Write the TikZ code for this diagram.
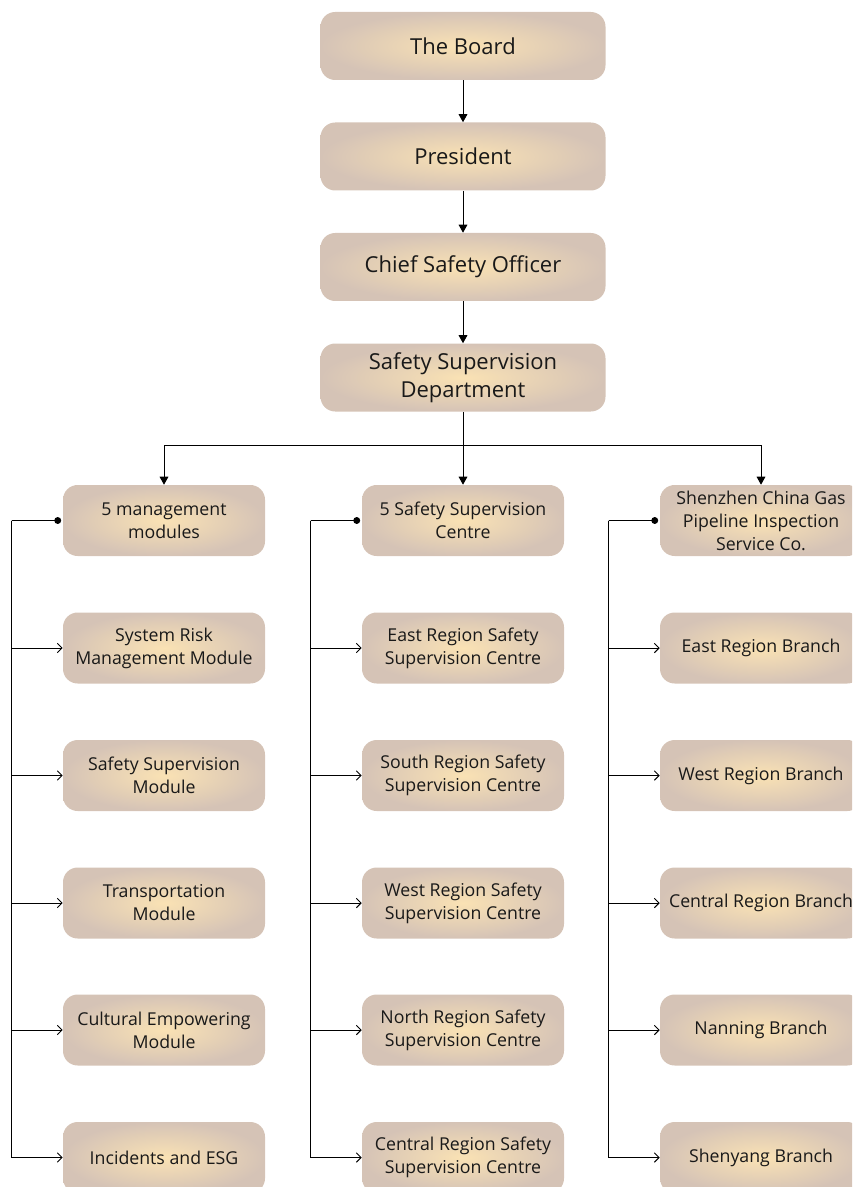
\documentclass[tikz,border=0pt]{standalone}
\usepackage{fontspec}
\setmainfont{Open Sans}
\usetikzlibrary{arrows.meta,positioning}
\definecolor{boxin}{RGB}{250,226,180}
\definecolor{boxout}{RGB}{213,195,182}
\tikzset{
  topbox/.style={rounded corners=11pt, inner color=boxin, outer color=boxout,
    minimum width=213.75pt, minimum height=51pt, align=center, font=\fontsize{16.5}{21}\selectfont, text=black!90},
  colbox/.style={rounded corners=11pt, inner color=boxin, outer color=boxout,
    minimum width=151.5pt, minimum height=53.25pt, align=center, font=\fontsize{13.3}{17.2}\selectfont, text=black!90, inner xsep=1pt},
  conn/.style={line width=0.75pt, black},
  solidarr/.style={conn, -{Triangle[width=6.5pt,length=6pt]}},
  openarr/.style={conn, -{Straight Barb[width=7pt,length=3.5pt,line width=0.75pt]}},
}
\begin{document}
\begin{tikzpicture}[x=0.75pt,y=-0.75pt]
\useasboundingbox (0,0) rectangle (852,1187);
\clip (0,0) rectangle (852,1187);
% top chain
\node[topbox] (board) at (463,46) {The Board};
\node[topbox] (pres) at (463,156.5) {President};
\node[topbox] (cso) at (463,267) {Chief Safety Officer};
\node[topbox] (ssd) at (463,377.5) {Safety Supervision\\Department};
\draw[solidarr] (board) -- (pres);
\draw[solidarr] (pres) -- (cso);
\draw[solidarr] (cso) -- (ssd);
% column heads
\node[colbox] (a0) at (164,520.5) {5 management\\modules};
\node[colbox] (b0) at (463,520.5) {5 Safety Supervision\\Centre};
\node[colbox, inner ysep=0pt] (c0) at (761,520.5) {Shenzhen China Gas\\Pipeline Inspection\\Service Co.};
\coordinate (bus) at (463,445);
\draw[conn] (ssd.south) -- (bus);
\draw[solidarr] (bus) -| (a0.north);
\draw[solidarr] (bus) -- (b0.north);
\draw[solidarr] (bus) -| (c0.north);
% children
\foreach \i/\y in {1/648,2/775.5,3/903,4/1030,5/1157.5}{
  \path (164,\y) coordinate (pa\i) (463,\y) coordinate (pb\i) (761,\y) coordinate (pc\i);
}
\node[colbox] (a1) at (pa1) {System Risk\\Management Module};
\node[colbox] (a2) at (pa2) {Safety Supervision\\Module};
\node[colbox] (a3) at (pa3) {Transportation\\Module};
\node[colbox] (a4) at (pa4) {Cultural Empowering\\Module};
\node[colbox] (a5) at (pa5) {Incidents and ESG};
\node[colbox] (b1) at (pb1) {East Region Safety\\Supervision Centre};
\node[colbox] (b2) at (pb2) {South Region Safety\\Supervision Centre};
\node[colbox] (b3) at (pb3) {West Region Safety\\Supervision Centre};
\node[colbox] (b4) at (pb4) {North Region Safety\\Supervision Centre};
\node[colbox] (b5) at (pb5) {Central Region Safety\\Supervision Centre};
\node[colbox] (c1) at (pc1) {East Region Branch};
\node[colbox] (c2) at (pc2) {West Region Branch};
\node[colbox] (c3) at (pc3) {Central Region Branch};
\node[colbox] (c4) at (pc4) {Nanning Branch};
\node[colbox] (c5) at (pc5) {Shenyang Branch};
% side buses
\foreach \c in {a,b,c}{
  \coordinate (\c d) at ([xshift=-3.75pt]\c0.west);
  \fill (\c d) circle (2.6pt);
  \coordinate (\c v) at ([xshift=-34.5pt]\c d);
  \draw[conn] (\c d) -- (\c v);
  \foreach \i in {1,...,5}{
    \draw[openarr] (\c v) |- (\c\i.west);
  }
}
\end{tikzpicture}
\end{document}
